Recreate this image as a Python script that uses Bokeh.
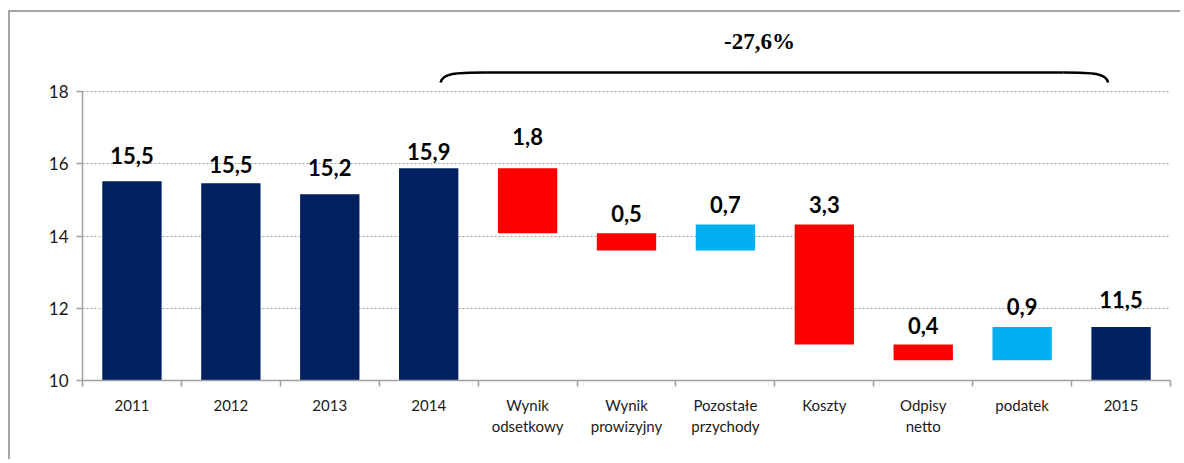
from bokeh.plotting import figure
from bokeh.models import ColumnDataSource, Range1d, FixedTicker
from bokeh.core.properties import value
from bokeh.embed import file_html
from bokeh.resources import INLINE

# ---- data ----
categories = ["2011", "2012", "2013", "2014", "Wynik\nodsetkowy", "Wynik\nprowizyjny",
              "Pozostałe\nprzychody", "Koszty", "Odpisy\nnetto", "podatek", "2015"]
kinds = ["total", "total", "total", "total", "delta", "delta", "delta", "delta", "delta", "delta", "total"]
values = [15.52, 15.46, 15.16, 15.88, -1.80, -0.48, 0.72, -3.32, -0.44, 0.92, 11.48]
label_texts = ["15,5", "15,5", "15,2", "15,9", "1,8", "0,5", "0,7", "3,3", "0,4", "0,9", "11,5"]
change_text = "-27,6%"
y_ticks = [10, 12, 14, 16, 18]

# ---- styling ----
NAVY = "#002060"
RED = "#FF0000"
LBLUE = "#00B0F0"
AXIS = "#a0a0a0"
label_gap = [19, 12, 20, 10, 25, 13, 13, 13, 12, 14, 21]

# waterfall geometry built from the values
base = 10
xs, bottoms, tops, colors = [], [], [], []
running = 0.0
for i, (k, v) in enumerate(zip(kinds, values)):
    xs.append(i + 0.5)
    if k == "total":
        bottoms.append(base)
        tops.append(v)
        running = v
        colors.append(NAVY)
    else:
        new = running + v
        bottoms.append(min(running, new))
        tops.append(max(running, new))
        colors.append(RED if v < 0 else LBLUE)
        running = new

src = ColumnDataSource(dict(x=xs, bottom=bottoms, top=tops, color=colors,
                            label=label_texts, yoff=[-(g + 7) for g in label_gap]))

n = len(categories)
p = figure(width=1172, height=449, output_backend="svg", toolbar_location=None,
           x_range=Range1d(0, n), y_range=Range1d(10, 19.97),
           min_border_left=72, min_border_right=12, min_border_top=8, min_border_bottom=81)
p.styles = {"border-top": "2px solid #a6a6a6", "border-left": "2px solid #a6a6a6",
            "margin-left": "8px", "margin-top": "10px"}
p.outline_line_color = None
p.background_fill_color = "white"
p.border_fill_color = "white"

p.vbar(x="x", bottom="bottom", top="top", width=0.6, fill_color="color",
       line_color=None, source=src)

p.text(x="x", y="top", text="label", y_offset="yoff", source=src,
       text_align="center", text_baseline="alphabetic",
       text_font=value("Lato"), text_font_style="bold", text_font_size="22px",
       text_color="#000000")

# brace spanning 2014 .. 2015 with the total change
x0 = 3 + 0.62
x1 = n - 1 + 0.37
yb, yt = 18.25, 18.53
p.bezier(x0=[x0, x1], y0=[yb, yb], x1=[x0 + 0.45, x1 - 0.45], y1=[yt, yt],
         cx0=[x0 + 0.02, x1 - 0.02], cy0=[yt - 0.02, yt - 0.02],
         cx1=[x0 + 0.15, x1 - 0.15], cy1=[yt, yt],
         line_color="black", line_width=2.5)
p.segment(x0=[x0 + 0.45], y0=[yt], x1=[x1 - 0.45], y1=[yt], line_color="black", line_width=2.5)
p.text(x=[(x0 + x1) / 2 - 0.15], y=[19.39], text=[change_text], text_align="center",
       text_baseline="alphabetic", text_font=value("Liberation Serif"),
       text_font_style="bold", text_font_size="23px", text_color="#000000")

# axes
p.xaxis.ticker = FixedTicker(ticks=[i + 0.5 for i in range(n)], minor_ticks=list(range(n + 1)))
p.xaxis.major_label_overrides = {i + 0.5: c for i, c in enumerate(categories)}
p.xaxis.major_tick_line_color = None
p.xaxis.major_tick_out = 6
p.xaxis.major_tick_in = 0
p.xaxis.minor_tick_line_color = AXIS
p.xaxis.minor_tick_line_width = 1.5
p.xaxis.minor_tick_out = 6
p.xaxis.minor_tick_in = 0
p.xaxis.axis_line_color = AXIS
p.xaxis.axis_line_width = 1.5
p.xaxis.major_label_text_font = "Lato"
p.xaxis.major_label_text_font_size = "15px"
p.xaxis.major_label_text_color = "#1a1a1a"
p.xaxis.major_label_standoff = 9

p.yaxis.ticker = FixedTicker(ticks=y_ticks, minor_ticks=[])
p.yaxis.bounds = (10, 18)
p.yaxis.axis_line_color = AXIS
p.yaxis.axis_line_width = 1.5
p.yaxis.major_tick_line_color = AXIS
p.yaxis.major_tick_line_width = 1.5
p.yaxis.major_tick_out = 6
p.yaxis.major_tick_in = 0
p.yaxis.minor_tick_line_color = None
p.yaxis.major_label_text_font = "Lato"
p.yaxis.major_label_text_font_size = "17px"
p.yaxis.major_label_text_color = "#1a1a1a"
p.yaxis.major_label_standoff = 8

p.xgrid.grid_line_color = None
p.ygrid.grid_line_color = AXIS
p.ygrid.grid_line_dash = "2 2"
p.ygrid.grid_line_width = 1

open("out.html", "w").write(file_html(p, INLINE))
